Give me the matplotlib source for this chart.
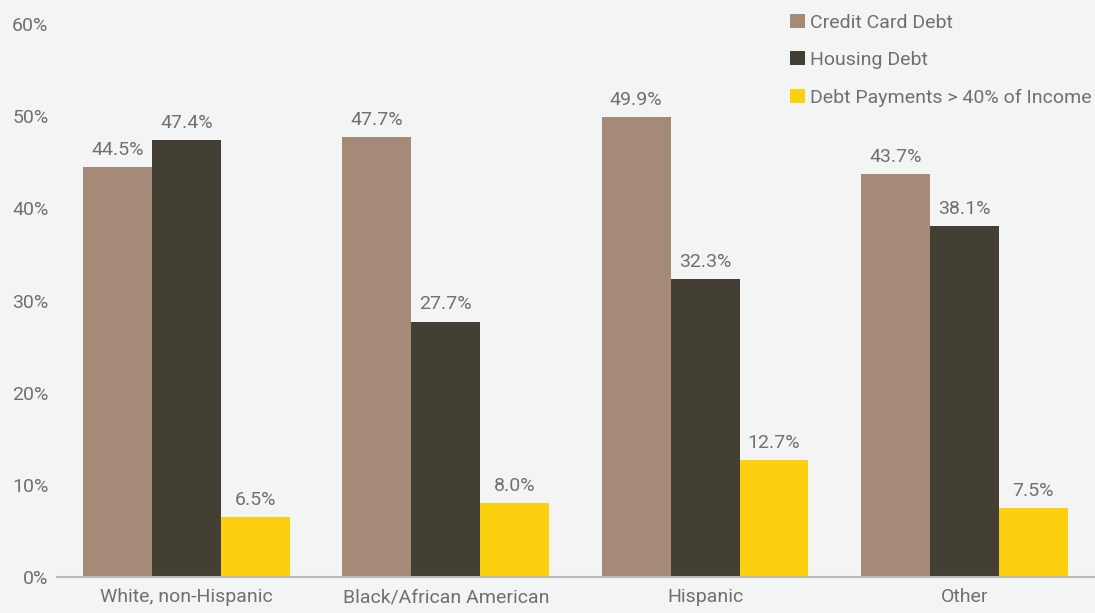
import numpy as np
import matplotlib.pyplot as plt
from matplotlib.patches import Patch

# Share of households holding each kind of debt, by race/ethnicity
groups = ['White, non-Hispanic', 'Black/African American', 'Hispanic', 'Other']
credit_card = [44.5, 47.7, 49.9, 43.7]
housing = [47.4, 27.7, 32.3, 38.1]
payments_40 = [6.5, 8.0, 12.7, 7.5]
series_names = ['Credit Card Debt', 'Housing Debt', 'Debt Payments > 40% of Income']
y_ticks = [0, 10, 20, 30, 40, 50, 60]

colors = ['#A58B77', '#443F34', '#FCD00F']
bg = '#F3F5F4'
txt = '#707070'

plt.rcParams['font.family'] = ['Roboto', 'DejaVu Sans']

fig = plt.figure(figsize=(10.95, 6.13), dpi=100, facecolor=bg)
ax = fig.add_axes([0.052, 0.0587, 0.947, 0.902])
ax.set_facecolor(bg)

x = np.arange(len(groups))
w = 0.266
for i, (vals, col) in enumerate(zip([credit_card, housing, payments_40], colors)):
    bars = ax.bar(x + (i - 1) * w, vals, width=w, color=col, label=series_names[i], zorder=2)
    for b, v in zip(bars, vals):
        ax.annotate(f'{v:.1f}%', (b.get_x() + b.get_width() / 2, v),
                    xytext=(0, 6), textcoords='offset points',
                    ha='center', va='bottom', fontsize=14, color=txt)

ax.set_xlim(-0.5, 3.5)
ax.set_ylim(0, 60)
ax.set_yticks(y_ticks)
ax.set_yticklabels([f'{t}%' for t in y_ticks])
ax.set_xticks(x)
ax.set_xticklabels(groups)
ax.tick_params(axis='both', length=0, labelsize=14, labelcolor=txt)
ax.tick_params(axis='y', pad=6)
ax.tick_params(axis='x', pad=8)

for s in ['top', 'right', 'left']:
    ax.spines[s].set_visible(False)
ax.spines['bottom'].set_color('#BBBBBB')
ax.spines['bottom'].set_linewidth(1.5)
ax.spines['bottom'].set_zorder(3)

handles = [Patch(facecolor=c) for c in colors]
leg = ax.legend(handles, series_names, loc='upper left', bbox_to_anchor=(0.696, 1.04),
                frameon=False, fontsize=14, handlelength=0.75, handleheight=0.75,
                handletextpad=0.25, labelspacing=1.0, labelcolor=txt,
                borderaxespad=0.2)

fig.savefig('out.png', dpi=100, facecolor=bg)
